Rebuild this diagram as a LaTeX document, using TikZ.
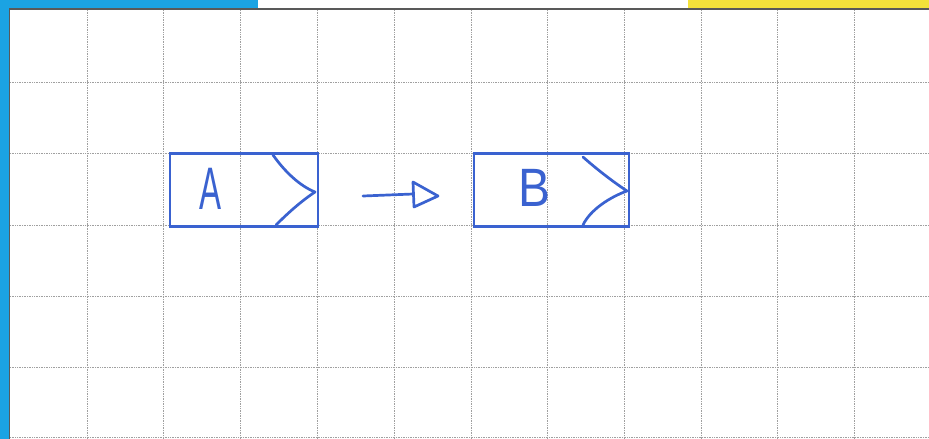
\documentclass[tikz,border=0pt]{standalone}
\usepackage{fontspec}
\setmainfont{Liberation Sans}
\definecolor{pen}{HTML}{3A62D0}
\definecolor{frameblue}{HTML}{1BA3E3}
\definecolor{tapeyellow}{HTML}{F4E23A}
\definecolor{gridgray}{HTML}{A0A0A0}
\begin{document}
\begin{tikzpicture}[x=1pt,y=-1pt,
  gridline/.style={gridgray, densely dotted, line width=0.7pt},
  penline/.style={pen, line width=2.7pt, line cap=round, line join=round},
  boxnode/.style={draw=pen, line width=2.7pt, minimum width=148pt, minimum height=73pt, inner sep=0pt},
  letter/.style={pen, font=\fontsize{60}{60}\selectfont, inner sep=0pt}]
\useasboundingbox (0,0) rectangle (929,439);
\fill[white] (0,0) rectangle (929,439);
% grid
\foreach \gx in {87,163,240,317,394,471,547,624,701,777,854}
  \draw[gridline] (\gx,10) -- (\gx,439);
\foreach \gy in {82,153,225,296,367,437}
  \draw[gridline] (10,\gy) -- (929,\gy);
% frame
\fill[frameblue] (0,0) rectangle (258,8);
\fill[tapeyellow] (688,0) rectangle (929,8);
\fill[frameblue] (0,0) rectangle (9,439);
\draw[gray!70!black, line width=1.2pt] (9,9) -- (929,9);
\draw[gray!70!black, line width=1pt] (9.5,9) -- (9.5,439);
% boxes
\node[boxnode, minimum width=148pt] (boxA) at (244,190) {};
\node[boxnode, minimum width=155pt] (boxB) at (551.5,190) {};
% letters
\node[letter] (labA) at (211,189) {\scalebox{0.55}[1]{A}};
\node[letter] (labB) at (535,188) {\scalebox{0.8}[0.9]{B}};
% chevrons
\draw[penline] (273,155) .. controls (285,172) and (300,186) .. (315,192)
               .. controls (300,202) and (287,214) .. (276,225);
\draw[penline] (583,157) .. controls (600,172) and (615,183) .. (627,191)
               .. controls (610,197) and (590,210) .. (583,225);
% arrow
\coordinate (arrS) at (363,196);
\coordinate (arrE) at (413,194);
\draw[penline] (arrS) -- (arrE);
\draw[penline] (413,182) -- (438,196) -- (414,207) -- cycle;
\end{tikzpicture}
\end{document}
